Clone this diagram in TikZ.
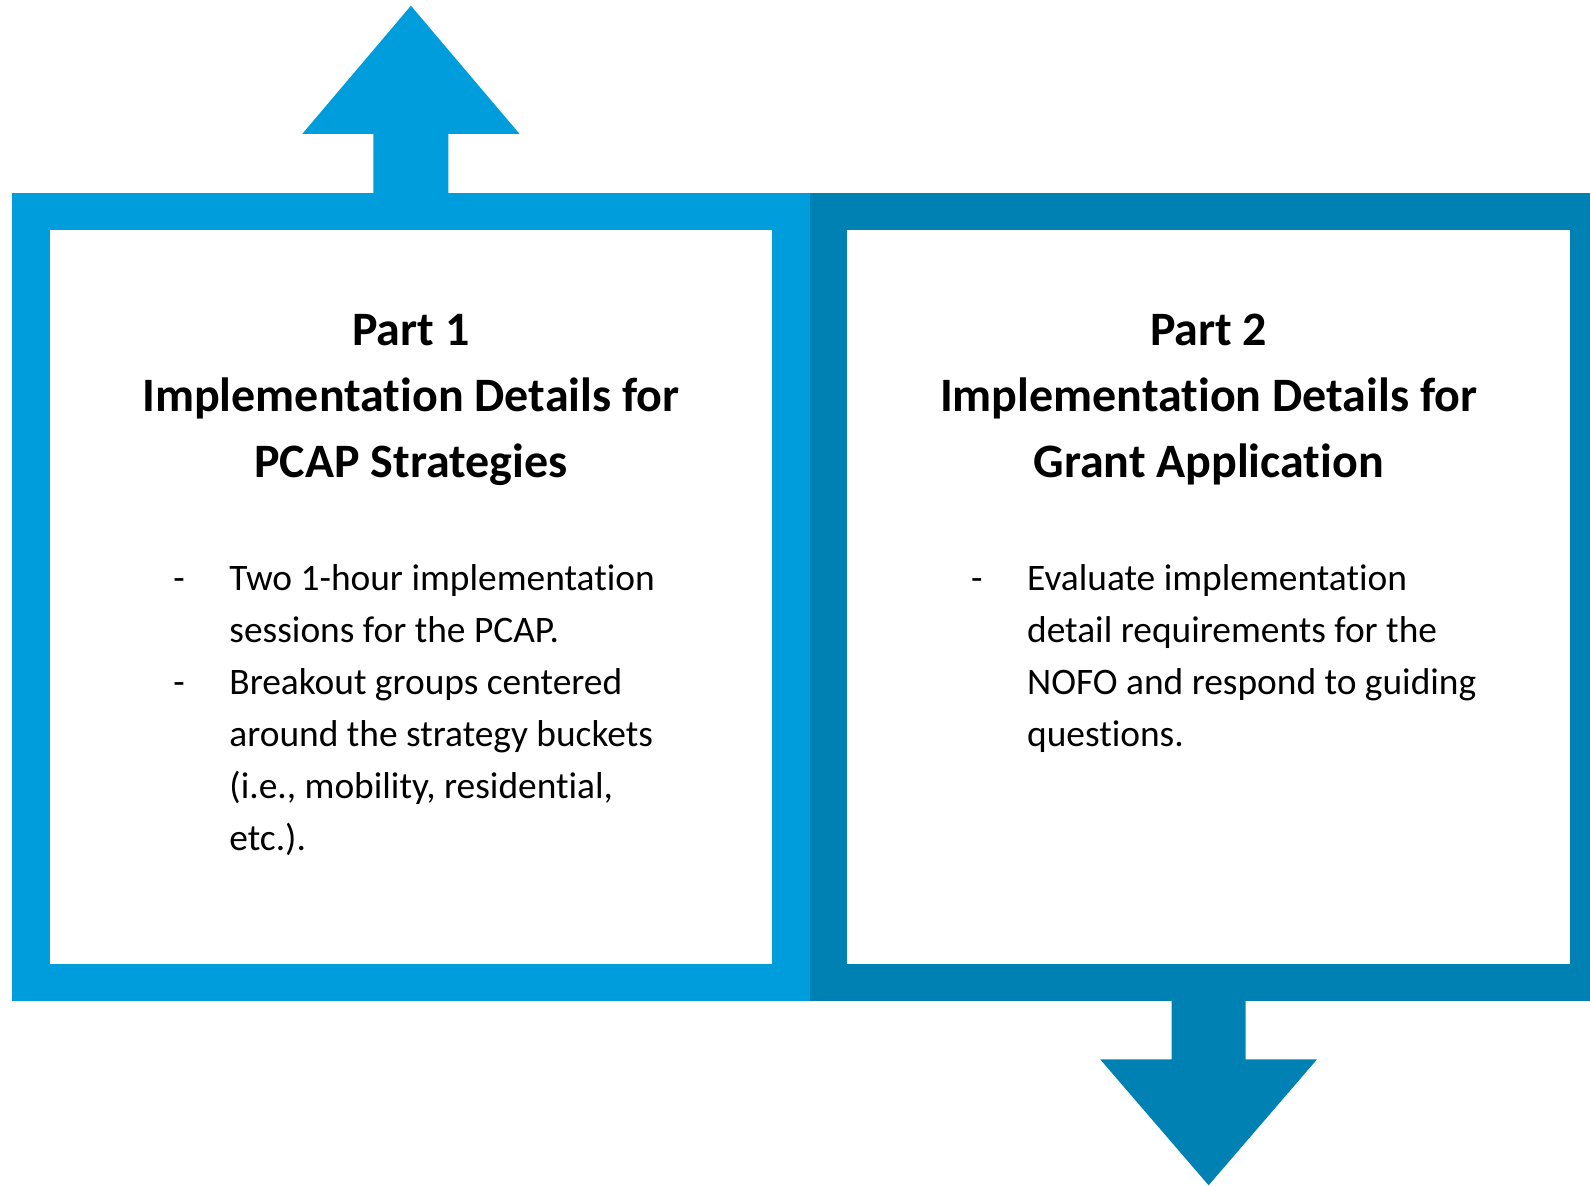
\documentclass[tikz,border=0pt]{standalone}
\usepackage{fontspec}
\setmainfont{Carlito}[Ligatures=NoCommon]
\usepackage{tikz}
\usetikzlibrary{calc,positioning}
\definecolor{pcapblue}{HTML}{009DDC}
\definecolor{grantblue}{HTML}{0081B4}
\tikzset{frm/.style={draw=#1,fill=white,rectangle,line width=18.75pt,outer sep=9.375pt,inner sep=0pt,minimum width=380.1pt,minimum height=385.5pt}}
\newcommand{\dashlist}[1]{\begin{tabular}[t]{@{}p{28pt}@{}l@{}}#1\end{tabular}}
\newcommand{\ttllines}[1]{\begin{tabular}[t]{@{}c@{}}#1\end{tabular}}

\begin{document}
\begin{tikzpicture}[x=0.5pt,y=-0.5pt,
  ttl/.style={inner sep=0pt,anchor=base,font=\fontsize{24}{33}\selectfont\bfseries},
  lst/.style={inner sep=0pt,anchor=base west,font=\fontsize{18.7}{26}\selectfont}]
	\useasboundingbox (0,0) rectangle (1590,1185);

	\node[frm=pcapblue] (p1) at (410.9,597) {};
	\node[frm=grantblue,right=0pt of p1] (p2) {};

	\coordinate (tipup) at ($(p1.north)+(0,-187)$);
	\coordinate (tipdown) at ($(p2.south)+(0,184)$);
	\fill[pcapblue] ($(p1.north)+(-37.5,18)$) -- ++(0,-77) -- ++(-71,0) -- (tipup) -- ++(108.5,128) -- ++(-71,0) -- ++(0,77) -- cycle;
	\fill[grantblue] ($(p2.south)+(-37,-18)$) -- ++(0,76) -- ++(-71.5,0) -- (tipdown) -- ++(108.5,-126) -- ++(-71.5,0) -- ++(0,-76) -- cycle;

	\node[ttl] (t1) at ($(p1.north)+(0,153)$) {\ttllines{Part 1\\Implementation Details for\\PCAP Strategies}};
	\node[ttl] (t2) at ($(p2.north)+(0,153)$) {\ttllines{Part 2\\Implementation Details for\\Grant Application}};

	\node[lst] (l1) at ($(p1.west)+(161,-7)$) {\dashlist{-&Two 1-hour implementation\\&sessions for the PCAP.\\-&Breakout groups centered\\&around the strategy buckets\\&(i.e., mobility, residential,\\&etc.).}};
	\node[lst] (l2) at ($(p2.west)+(161,-7)$) {\dashlist{-&Evaluate implementation\\&detail requirements for the\\&NOFO and respond to guiding\\&questions.}};
\end{tikzpicture}
\end{document}
